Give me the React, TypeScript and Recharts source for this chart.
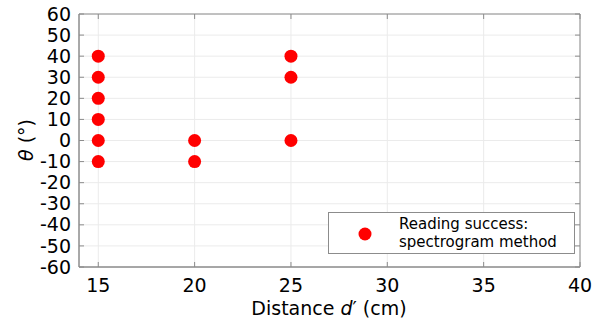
import { ScatterChart, Scatter, XAxis, YAxis, CartesianGrid, ReferenceArea, Legend } from 'recharts'

const distances = [15, 15, 15, 15, 15, 15, 20, 20, 25, 25, 25]
const angles = [40, 30, 20, 10, 0, -10, 0, -10, 40, 30, 0]
const xTicks = [15, 20, 25, 30, 35, 40]
const yTicks = [60, 50, 40, 30, 20, 10, 0, -10, -20, -30, -40, -50, -60]

const points = distances.map((d, i) => ({ d, theta: angles[i] }))

const FONT = 'DejaVu Sans, sans-serif'
const PLOT = { left: 79, right: 580, top: 14, bottom: 267 }
const FRAME = '#8c8c8c'

function YTick({ x, y, payload }: any) {
  return (
    <g>
      <line x1={PLOT.left} x2={PLOT.left + 5} y1={y} y2={y} stroke={FRAME} />
      <line x1={PLOT.right - 5} x2={PLOT.right} y1={y} y2={y} stroke={FRAME} />
      <text x={x} y={y} dy="0.35em" textAnchor="end" fontSize={19} fontFamily={FONT} fill="#000">
        {payload.value}
      </text>
    </g>
  )
}

function XTick({ x, y, payload }: any) {
  return (
    <g>
      <line x1={x} x2={x} y1={PLOT.bottom} y2={PLOT.bottom - 5} stroke={FRAME} />
      <line x1={x} x2={x} y1={PLOT.top} y2={PLOT.top + 5} stroke={FRAME} />
      <text x={x} y={y} dy="0.71em" textAnchor="middle" fontSize={19} fontFamily={FONT} fill="#000">
        {payload.value}
      </text>
    </g>
  )
}

function Dot({ cx, cy }: any) {
  return <circle cx={cx} cy={cy} r={6.5} fill="#ff0000" />
}

function LegendBox() {
  return (
    <div style={{
      width: 245, height: 40, border: '1px solid #8c8c8c', background: '#fff',
      display: 'flex', alignItems: 'center', fontFamily: FONT, fontSize: 15, lineHeight: '18px', color: '#000'
    }}>
      <svg width={70} height={40}>
        <circle cx={36} cy={21} r={6.5} fill="#ff0000" />
      </svg>
      <div>Reading success:<br />spectrogram method</div>
    </div>
  )
}

export default function App() {
  return (
    <div style={{ position: 'absolute', left: 0, top: 0, background: '#fff' }}>
      <ScatterChart width={607} height={327} margin={{ top: 14, right: 27, left: 0, bottom: 0 }}>
        <CartesianGrid stroke="#ebebeb" verticalValues={xTicks} horizontalValues={yTicks} />
        <XAxis type="number" dataKey="d" domain={[14, 40]} ticks={xTicks} height={60}
          tick={<XTick />} tickLine={false} tickSize={0} tickMargin={12} axisLine={{ stroke: FRAME }}
          allowDataOverflow />
        <YAxis type="number" dataKey="theta" domain={[-60, 60]} ticks={yTicks} width={79}
          tick={<YTick />} tickLine={false} tickSize={0} tickMargin={8} axisLine={{ stroke: FRAME }}
          interval={0} allowDataOverflow />
        <ReferenceArea x1={14} x2={40} y1={-60} y2={60} fill="none" stroke={FRAME} />
        <Scatter data={points} shape={<Dot />} isAnimationActive={false} />
        <Legend layout="horizontal" verticalAlign="middle" align="center"
          wrapperStyle={{ position: 'absolute', left: 328, top: 212, width: 'auto' }}
          content={() => <LegendBox />} />
        <text x={26} y={140} transform="rotate(-90 26 140)" textAnchor="middle" dominantBaseline="central"
          fontSize={19} fontFamily={FONT} fill="#000">
          <tspan fontStyle="italic">θ</tspan> (°)
        </text>
        <text x={329} y={315} textAnchor="middle" fontSize={19} fontFamily={FONT} fill="#000">
          Distance <tspan fontStyle="italic">d</tspan>′ (cm)
        </text>
      </ScatterChart>
    </div>
  )
}
